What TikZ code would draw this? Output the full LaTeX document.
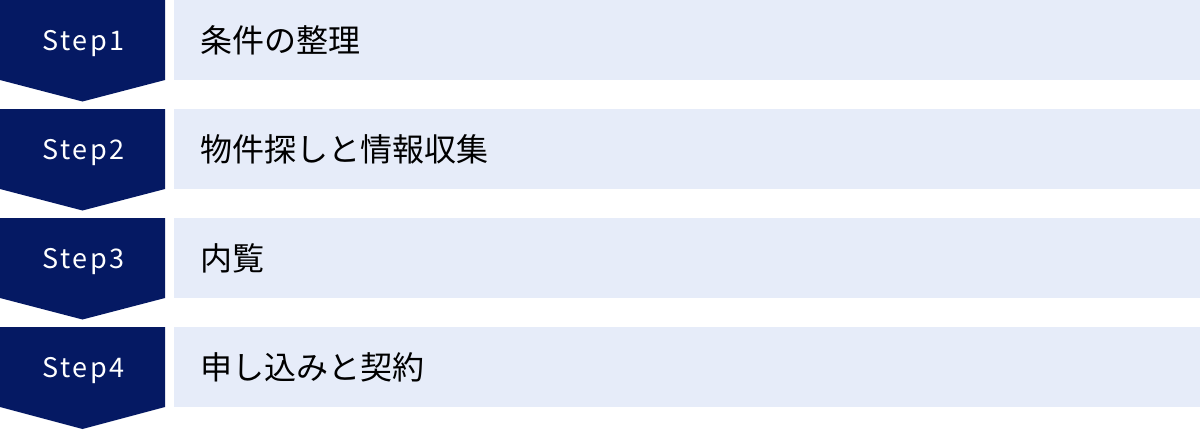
\documentclass[tikz,border=0pt]{standalone}
\usepackage{fontspec}
\setmainfont{Noto Sans CJK JP}
\newfontfamily\stepfont[LetterSpace=10]{Noto Sans CJK JP}
\definecolor{stepnavy}{HTML}{051963}
\definecolor{descblue}{HTML}{E6ECF9}

\begin{document}
\begin{tikzpicture}[x=1pt, y=1pt]

        % Styles for nodes
        \tikzstyle{steplabel} = [text=white, anchor=base, inner sep=0pt, font=\stepfont\fontsize{27pt}{32pt}\selectfont]
        \tikzstyle{desclabel} = [anchor=west, inner sep=0pt, font=\fontsize{32pt}{38pt}\selectfont]
        \tikzstyle{stepshape} = [fill=stepnavy]
        \tikzstyle{descshape} = [fill=descblue]

        \useasboundingbox (0,0) rectangle (1200,-429);

        % Shapes
        \fill[stepshape] (0,0) -- (165,0) -- (165,-80) -- (82.5,-101.5) -- (0,-80) -- cycle;
        \fill[stepshape] (0,-109) -- (165,-109) -- (165,-189) -- (82.5,-210.5) -- (0,-189) -- cycle;
        \fill[stepshape] (0,-218) -- (165,-218) -- (165,-298) -- (82.5,-319.5) -- (0,-298) -- cycle;
        \fill[stepshape] (0,-327) -- (165,-327) -- (165,-407) -- (82.5,-429) -- (0,-407) -- cycle;
        \fill[descshape] (174,0) rectangle (1200,-80);
        \fill[descshape] (174,-109) rectangle (1200,-189);
        \fill[descshape] (174,-218) rectangle (1200,-298);
        \fill[descshape] (174,-327) rectangle (1200,-407);

        % Nodes
        \node[steplabel] (s1) at (83.5,-50) {Step1};
        \node[steplabel] (s2) at (83.5,-159) {Step2};
        \node[steplabel] (s3) at (83.5,-268) {Step3};
        \node[steplabel] (s4) at (83.5,-377) {Step4};
        \node[desclabel] (d1) at (200,-40) {条件の整理};
        \node[desclabel] (d2) at (200,-149) {物件探しと情報収集};
        \node[desclabel] (d3) at (200,-258) {内覧};
        \node[desclabel] (d4) at (200,-367) {申し込みと契約};

\end{tikzpicture}
\end{document}
